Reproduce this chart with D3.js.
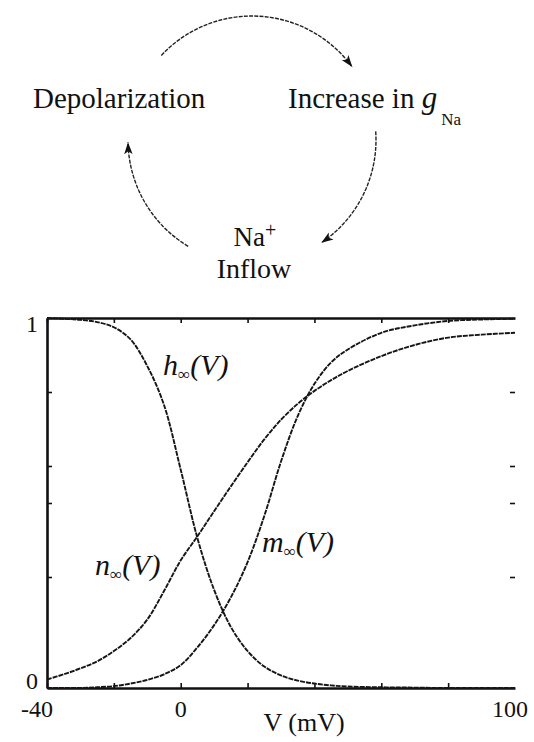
<!DOCTYPE html>
<html>
<head>
<meta charset="utf-8">
<script src="https://cdn.jsdelivr.net/npm/d3@7"></script>
<style>
  body { margin: 0; background: #fff; }
  svg { display: block; }
</style>
</head>
<body>
<script>
// Steady-state gating variables of the Hodgkin-Huxley model versus membrane potential
const voltages = [-40, -35, -30, -25, -20, -15, -10, -5, 0, 5, 10, 15, 20, 25, 30, 35, 40, 45, 50, 60, 70, 80, 90, 100];
const hInf = [1.0, 0.998, 0.995, 0.989, 0.975, 0.942, 0.87, 0.765, 0.59, 0.405, 0.265, 0.165, 0.1, 0.058, 0.034, 0.02, 0.012, 0.007, 0.004, 0.002, 0.001, 0.0, 0.0, 0.0];
const nInf = [0.023, 0.037, 0.053, 0.072, 0.1, 0.135, 0.185, 0.262, 0.345, 0.41, 0.478, 0.545, 0.61, 0.672, 0.725, 0.768, 0.803, 0.832, 0.857, 0.897, 0.927, 0.947, 0.955, 0.96];
const mInf = [0.0, 0.0, 0.0, 0.002, 0.005, 0.012, 0.022, 0.037, 0.062, 0.11, 0.17, 0.245, 0.34, 0.465, 0.612, 0.735, 0.822, 0.88, 0.915, 0.96, 0.98, 0.992, 0.996, 0.998];

const xTickValues = [-40, -20, 0, 20, 40, 60, 80];
const xTickLabels = [-40, 0, 100];
const yTickValues = [0.3, 0.5, 0.6, 0.8];
const yTickLabels = [0, 1];

const W = 534, H = 742;
const ink = "#111";
const FONT = '"Liberation Serif", "Times New Roman", serif';

const svg = d3.select("body").append("svg")
  .attr("width", W).attr("height", H)
  .attr("viewBox", `0 0 ${W} ${H}`);

svg.append("rect").attr("width", W).attr("height", H).attr("fill", "#fff");

function label(parent, px, py, size) {
  return parent.append("text")
    .attr("x", px).attr("y", py)
    .attr("font-size", size).attr("fill", ink)
    .style("font-family", FONT);
}

// ---------- positive-feedback cycle diagram ----------
const cycle = svg.append("g");
const cx = 252, cy = 140, r = 124;

const defs = svg.append("defs");
defs.append("marker")
  .attr("id", "head")
  .attr("viewBox", "-12 -5 12 10")
  .attr("refX", 0).attr("refY", 0)
  .attr("markerUnits", "userSpaceOnUse")
  .attr("markerWidth", 12).attr("markerHeight", 10)
  .attr("orient", "auto")
  .append("path")
  .attr("d", "M0,0 L-12,-4.2 L-9,0 L-12,4.2 Z")
  .attr("fill", ink);

const arcs = [
  { from: -137, to: -36 },
  { from: -4, to: 56 },
  { from: 121, to: 179 }
];
const arcLine = d3.line().curve(d3.curveLinear);
arcs.forEach(a => {
  const pts = d3.range(0, 41).map(i => {
    const t = (a.from + (a.to - a.from) * i / 40) * Math.PI / 180;
    return [cx + r * Math.cos(t), cy + r * Math.sin(t)];
  });
  cycle.append("path")
    .attr("d", arcLine(pts))
    .attr("fill", "none")
    .attr("stroke", "#222")
    .attr("stroke-width", 1.4)
    .attr("stroke-dasharray", "4 1.2")
    .attr("marker-end", "url(#head)");
});

label(cycle, 33, 108, 29).text("Depolarization");

const gna = label(cycle, 288, 108, 29);
gna.append("tspan").text("Increase in ");
gna.append("tspan").attr("font-style", "italic").attr("font-size", 31).text("g");
gna.append("tspan").attr("font-size", 17).attr("dx", 4).attr("dy", 17).text("Na");

const na = label(cycle, 255, 246, 27).attr("text-anchor", "middle");
na.append("tspan").text("Na");
na.append("tspan").attr("font-size", 20).attr("dy", -9).text("+");

label(cycle, 254, 278, 28).attr("text-anchor", "middle").text("Inflow");

// ---------- gating-variable plot ----------
const x = d3.scaleLinear().domain([-40, 100]).range([47, 515]);
const y = d3.scaleLinear().domain([0, 1]).range([688, 318]);

const plot = svg.append("g");

function styleAxis(g, showDomain) {
  g.selectAll(".tick line").attr("stroke", ink).attr("stroke-width", 1.6);
  g.select(".domain")
    .attr("stroke", ink)
    .attr("stroke-width", showDomain ? 2.6 : 0)
    .attr("stroke-opacity", showDomain ? 1 : 0);
  g.selectAll(".tick text").remove();
}

plot.append("g").attr("transform", `translate(0,${y(0)})`)
  .call(d3.axisBottom(x).tickValues(xTickValues).tickSize(-5).tickSizeOuter(0))
  .call(g => styleAxis(g, true));
plot.append("g").attr("transform", `translate(0,${y(1)})`)
  .call(d3.axisTop(x).tickValues(xTickValues).tickSize(-5).tickSizeOuter(0))
  .call(g => styleAxis(g, true));
plot.append("g").attr("transform", `translate(${x(-40)},0)`)
  .call(d3.axisLeft(y).tickValues(yTickValues).tickSize(-5).tickSizeOuter(0))
  .call(g => styleAxis(g, true));
plot.append("g").attr("transform", `translate(${x(100)},0)`)
  .call(d3.axisRight(y).tickValues(yTickValues).tickSize(-5).tickSizeOuter(0))
  .call(g => styleAxis(g, false));

// tick labels
const xLabelShift = { "-40": -10, "0": 0, "100": -5 };
xTickLabels.forEach(d => {
  label(plot, x(d) + xLabelShift[d], 717, 24)
    .attr("text-anchor", "middle")
    .text(String(d));
});
yTickLabels.forEach(d => {
  label(plot, 38, y(d) + (d === 1 ? 14 : 1), 24)
    .attr("text-anchor", "end")
    .text(String(d));
});

label(plot, 304, 731, 26).attr("text-anchor", "middle").text("V (mV)");

// curves
const line = d3.line()
  .x((d, i) => x(voltages[i]))
  .y(d => y(d))
  .curve(d3.curveCatmullRom.alpha(0.5));

[hInf, nInf, mInf].forEach(series => {
  plot.append("path")
    .attr("d", line(series))
    .attr("fill", "none")
    .attr("stroke", "#151515")
    .attr("stroke-width", 1.9)
    .attr("stroke-dasharray", "5 1");
});

// curve labels: italic symbol, infinity subscript, (V)
function gateLabel(sym, px, py) {
  const t = label(plot, px, py, 30).attr("font-style", "italic");
  t.append("tspan").text(sym);
  t.append("tspan").attr("font-size", 17).attr("font-style", "normal").attr("dy", 5).text("\u221E");
  t.append("tspan").attr("dy", -5).text("(V)");
}
gateLabel("h", 163, 375);
gateLabel("n", 95, 575);
gateLabel("m", 262, 552);
</script>
</body>
</html>
